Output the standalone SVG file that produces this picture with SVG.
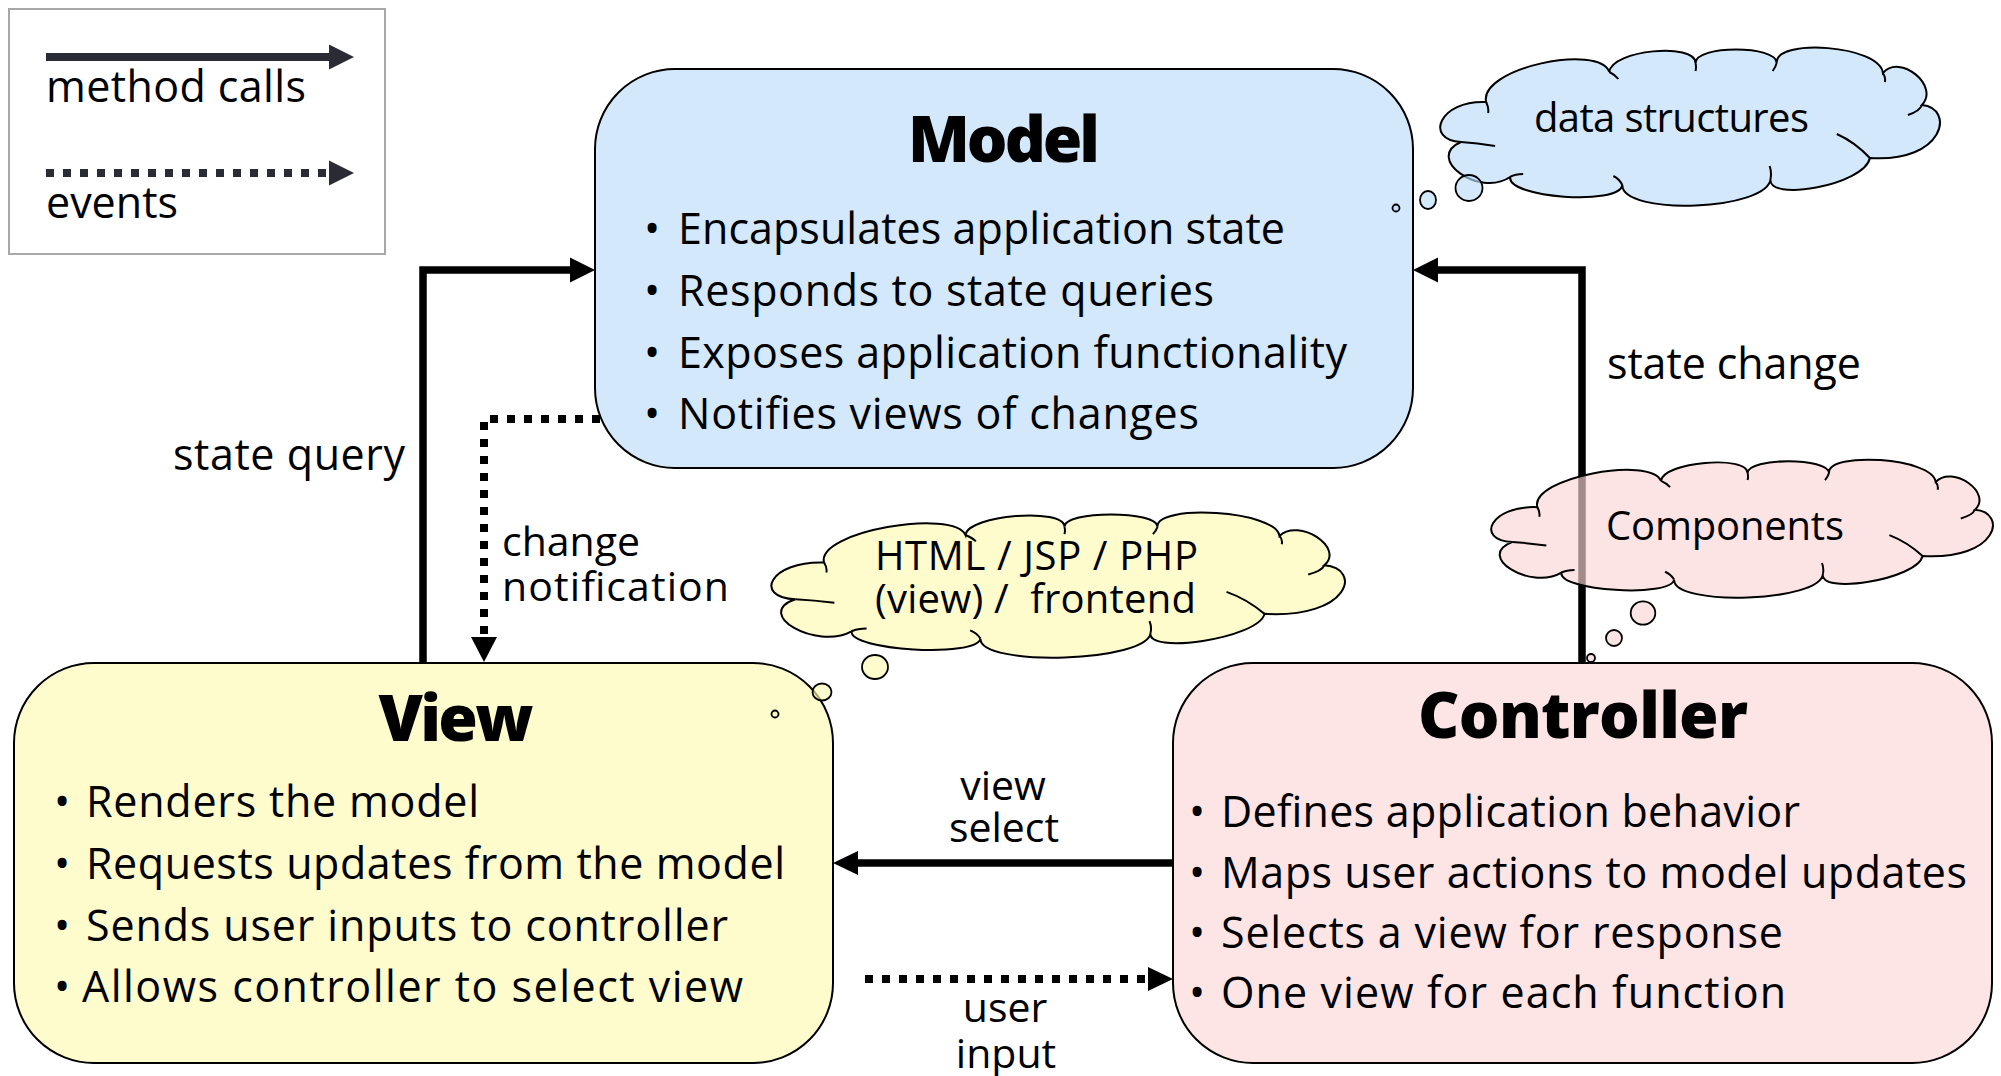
<svg xmlns="http://www.w3.org/2000/svg" width="2001" height="1076" viewBox="0 0 2001 1076">
  <style>
    text { font-family: "Open Sans", "Noto Sans", "DejaVu Sans", sans-serif; fill: #000; }
    .body { font-size: 43px; }
    .lbl { font-size: 43px; }
    .pair { font-size: 41px; }
    .mid { text-anchor: middle; }
    .ttl { font-size: 64px; font-weight: 800; text-anchor: middle; }
    .blt { font-size: 43px; text-anchor: middle; }
    .ctext { font-size: 40px; }
    .box { stroke: #000; stroke-width: 2; }
    .wire { fill: none; stroke: #000; stroke-width: 7.5; }
    .dot { fill: none; stroke: #000; stroke-width: 8; stroke-dasharray: 8 9; }
    .head { fill: #000; stroke: none; }
    .cloud { stroke: #000; stroke-width: 2; fill-opacity: 0.65; }
    .crease { fill: none; stroke: #000; stroke-width: 2; }
    .bub { stroke: #000; stroke-width: 1.8; fill-opacity: 0.65; }
    .legend-ink { fill: #2b2b36; }
  </style>
  <defs>
    <!-- cloud outline drawn in a 500 x 157 frame, scaled per use -->
    <path id="cloud-outline" vector-effect="non-scaling-stroke" d="M 22 94
      C -15 92, 0 52, 47 54
      C 40 20, 160 -5, 170 24
      C 172 2, 256 -6, 256 15
      C 256 -3, 337 -3, 337 15
      C 335 -10, 440 -3, 443 25
      C 460 5, 500 38, 482 57
      C 515 60, 505 115, 430 110
      C 425 137, 325 155, 331 130
      C 330 163, 182 168, 183 137
      C 180 158, 68 150, 71 129
      C 40 150, -15 110, 22 94 Z"/>
    <path id="cloud-creases" vector-effect="non-scaling-stroke" d="M 22 94 Q 38 95 56 98
      M 47 54 Q 50 60 49 65
      M 170 24 Q 176 27 179 31
      M 256 15 Q 257 19 256 23
      M 337 15 Q 336 19 333 23
      M 443 25 Q 446 29 445 34
      M 482 57 Q 480 63 468 67
      M 430 110 Q 415 94 397 86
      M 331 130 Q 332 124 330 118
      M 183 137 Q 180 131 174 128
      M 71 129 Q 76 126 84 126"/>
  </defs>

  <rect width="2001" height="1076" fill="#fff"/>

  <!-- legend -->
  <g id="legend">
    <rect x="9" y="9" width="376" height="245" fill="#fff" stroke="#a8a8a8" stroke-width="2"/>
    <rect x="46" y="53" width="284" height="8" class="legend-ink"/>
    <polygon points="329,44.5 354,57 329,69.5" class="legend-ink"/>
    <text class="lbl" x="46" y="102" textLength="260">method calls</text>
    <line x1="46" y1="173" x2="330" y2="173" stroke="#2b2b36" stroke-width="8" stroke-dasharray="8 9"/>
    <polygon points="329,160.5 354,173 329,185.5" class="legend-ink"/>
    <text class="lbl" x="46" y="218">events</text>
  </g>

  <!-- connectors -->
  <g id="connectors">
    <path class="wire" d="M 423 663 V 270 H 572"/>
    <polygon class="head" points="570,257.5 595,270 570,282.5"/>
    <path class="wire" d="M 1582 663 V 270 H 1436"/>
    <polygon class="head" points="1438,257.5 1413,270 1438,282.5"/>
    <path class="dot" d="M 600 419 H 484 V 640"/>
    <polygon class="head" points="471,637 484,662 497,637"/>
    <path class="wire" d="M 1173 863 H 856"/>
    <polygon class="head" points="858,851 833,863 858,875"/>
    <path class="dot" d="M 865 979 H 1150"/>
    <polygon class="head" points="1148,967 1173,979 1148,991"/>
    <text class="lbl" x="173" y="470" textLength="232">state query</text>
    <text class="pair" x="502" y="556">change</text>
    <text class="pair" x="502" y="601" textLength="227">notification</text>
    <text class="lbl" x="1607" y="379" textLength="254">state change</text>
    <text class="pair mid" x="1003" y="800">view</text>
    <text class="pair mid" x="1004" y="842">select</text>
    <text class="pair mid" x="1005" y="1022">user</text>
    <text class="pair mid" x="1006" y="1068">input</text>
  </g>

  <!-- model -->
  <g id="model">
    <rect class="box" x="595" y="69" width="818" height="399" rx="80" fill="#d4e8fc"/>
    <text class="ttl" x="1004" y="162" textLength="192">Model</text>
    <text class="blt" x="652" y="244">•</text>
    <text class="body" x="678" y="244" textLength="607">Encapsulates application state</text>
    <text class="blt" x="652" y="306">•</text>
    <text class="body" x="678" y="306" textLength="536">Responds to state queries</text>
    <text class="blt" x="652" y="368">•</text>
    <text class="body" x="678" y="368" textLength="669">Exposes application functionality</text>
    <text class="blt" x="652" y="429">•</text>
    <text class="body" x="678" y="429" textLength="521">Notifies views of changes</text>
  </g>

  <!-- view -->
  <g id="view">
    <rect class="box" x="14" y="663" width="819" height="400" rx="80" fill="#fefbcc"/>
    <text class="ttl" x="456" y="741" textLength="155">View</text>
    <text class="blt" x="62" y="817">•</text>
    <text class="body" x="86" y="817" textLength="393">Renders the model</text>
    <text class="blt" x="62" y="879">•</text>
    <text class="body" x="86" y="879" textLength="699">Requests updates from the model</text>
    <text class="blt" x="62" y="941">•</text>
    <text class="body" x="86" y="941" textLength="642">Sends user inputs to controller</text>
    <text class="blt" x="62" y="1002">•</text>
    <text class="body" x="82" y="1002" textLength="661">Allows controller to select view</text>
  </g>

  <!-- controller -->
  <g id="controller">
    <rect class="box" x="1173" y="663" width="819" height="400" rx="80" fill="#fde5e5"/>
    <text class="ttl" x="1583" y="738" textLength="330">Controller</text>
    <text class="blt" x="1197" y="827">•</text>
    <text class="body" x="1221" y="827" textLength="579">Defines application behavior</text>
    <text class="blt" x="1197" y="888">•</text>
    <text class="body" x="1221" y="888" textLength="746">Maps user actions to model updates</text>
    <text class="blt" x="1197" y="948">•</text>
    <text class="body" x="1221" y="948" textLength="562">Selects a view for response</text>
    <text class="blt" x="1197" y="1008">•</text>
    <text class="body" x="1221" y="1008" textLength="565">One view for each function</text>
  </g>

  <!-- thought cloud attached to the model -->
  <g id="cloud-data">
    <g transform="translate(1439 48) scale(1.002 1)">
      <use href="#cloud-outline" class="cloud" fill="#bddcfb"/>
      <use href="#cloud-creases" class="crease"/>
    </g>
    <circle class="bub" cx="1396" cy="208" r="3.5" fill="#bddcfb"/>
    <ellipse class="bub" cx="1428" cy="200" rx="8" ry="9" fill="#bddcfb"/>
    <ellipse class="bub" cx="1469" cy="188" rx="13.5" ry="13" fill="#bddcfb"/>
    <text class="ctext" x="1534" y="132" textLength="275">data structures</text>
  </g>

  <!-- thought cloud attached to the view -->
  <g id="cloud-html">
    <g transform="translate(770 513) scale(1.15 0.917)">
      <use href="#cloud-outline" class="cloud" fill="#fef9b2"/>
      <use href="#cloud-creases" class="crease"/>
    </g>
    <ellipse class="bub" cx="875" cy="667" rx="13" ry="12" fill="#fef9b2"/>
    <ellipse class="bub" cx="822" cy="692" rx="9.5" ry="8.5" fill="#fef9b2"/>
    <circle class="bub" cx="775" cy="714" r="3.5" fill="#fef9b2"/>
    <text class="ctext" x="875" y="570" textLength="323">HTML / JSP / PHP</text>
    <text class="ctext" x="875" y="613" textLength="321" style="white-space:pre">(view) /  frontend</text>
  </g>

  <!-- thought cloud attached to the controller -->
  <g id="cloud-components">
    <g transform="translate(1490 460) scale(1.006 0.873)">
      <use href="#cloud-outline" class="cloud" fill="#fcd6d6"/>
      <use href="#cloud-creases" class="crease"/>
    </g>
    <ellipse class="bub" cx="1643" cy="613" rx="12.3" ry="11.7" fill="#fcd6d6"/>
    <circle class="bub" cx="1614" cy="638" r="8" fill="#fcd6d6"/>
    <circle class="bub" cx="1591" cy="658" r="4" fill="#fcd6d6"/>
    <text class="ctext" x="1606" y="540" textLength="238">Components</text>
  </g>
</svg>
